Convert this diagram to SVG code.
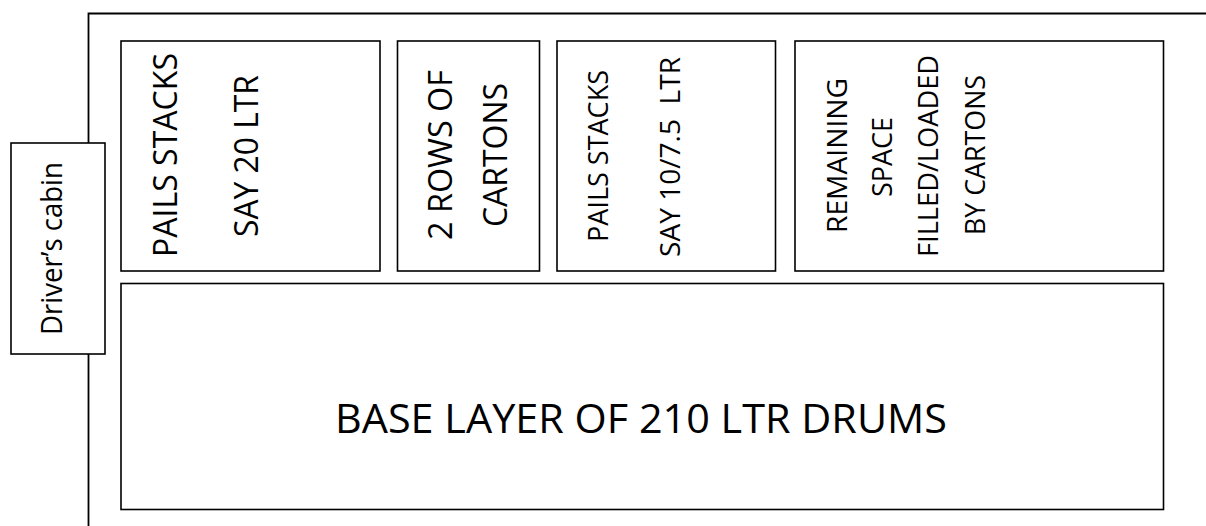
<svg xmlns="http://www.w3.org/2000/svg" width="1206" height="526" viewBox="0 0 1206 526">
<style>
.box{fill:#fff;stroke:#000;stroke-width:1.6}
.body{fill:none;stroke:#000;stroke-width:1.8}
text{font-family:"Open Sans","Liberation Sans",sans-serif;fill:#000;text-anchor:middle}
.t1{font-size:33px}
.t2{font-size:28px}
.tc{font-size:29px}
.tb{font-size:40.5px}
</style>
<rect x="0" y="0" width="1206" height="526" fill="#fff"/>
<g id="truck-body">
<path class="body" d="M88.5,526 V13.5 H1206"/>
</g>
<g id="cabin">
<rect class="box" x="11" y="143" width="94" height="211"/>
<text class="tc" transform="translate(62,248.5) rotate(-90)" textLength="173" lengthAdjust="spacingAndGlyphs">Driver’s cabin</text>
</g>
<g id="pails-20">
<rect class="box" x="121" y="41" width="259" height="230"/>
<text class="t1" transform="translate(177,155) rotate(-90)" textLength="204" lengthAdjust="spacingAndGlyphs">PAILS STACKS</text>
<text class="t1" transform="translate(258,156) rotate(-90)" textLength="162" lengthAdjust="spacingAndGlyphs">SAY 20 LTR</text>
</g>
<g id="cartons-2rows">
<rect class="box" x="397.5" y="41" width="142" height="230"/>
<text class="t1" transform="translate(452,155) rotate(-90)" textLength="170" lengthAdjust="spacingAndGlyphs">2 ROWS OF</text>
<text class="t1" transform="translate(507,155) rotate(-90)" textLength="144" lengthAdjust="spacingAndGlyphs">CARTONS</text>
</g>
<g id="pails-10">
<rect class="box" x="557" y="41" width="218.5" height="230"/>
<text class="t2" transform="translate(608,156) rotate(-90)" textLength="172" lengthAdjust="spacingAndGlyphs">PAILS STACKS</text>
<text class="t2" transform="translate(680,157) rotate(-90)" textLength="200" lengthAdjust="spacingAndGlyphs" xml:space="preserve">SAY 10/7.5  LTR</text>
</g>
<g id="remaining">
<rect class="box" x="795" y="41" width="368.5" height="230"/>
<text class="t2" transform="translate(847,155.5) rotate(-90)" textLength="155" lengthAdjust="spacingAndGlyphs">REMAINING</text>
<text class="t2" transform="translate(892,157) rotate(-90)" textLength="80" lengthAdjust="spacingAndGlyphs">SPACE</text>
<text class="t2" transform="translate(938,156) rotate(-90)" textLength="202" lengthAdjust="spacingAndGlyphs">FILLED/LOADED</text>
<text class="t2" transform="translate(985,155) rotate(-90)" textLength="160" lengthAdjust="spacingAndGlyphs">BY CARTONS</text>
</g>
<g id="base-layer">
<rect class="box" x="121" y="283.5" width="1042.5" height="226"/>
<text class="tb" x="641" y="433" textLength="612" lengthAdjust="spacingAndGlyphs">BASE LAYER OF 210 LTR DRUMS</text>
</g>
</svg>
